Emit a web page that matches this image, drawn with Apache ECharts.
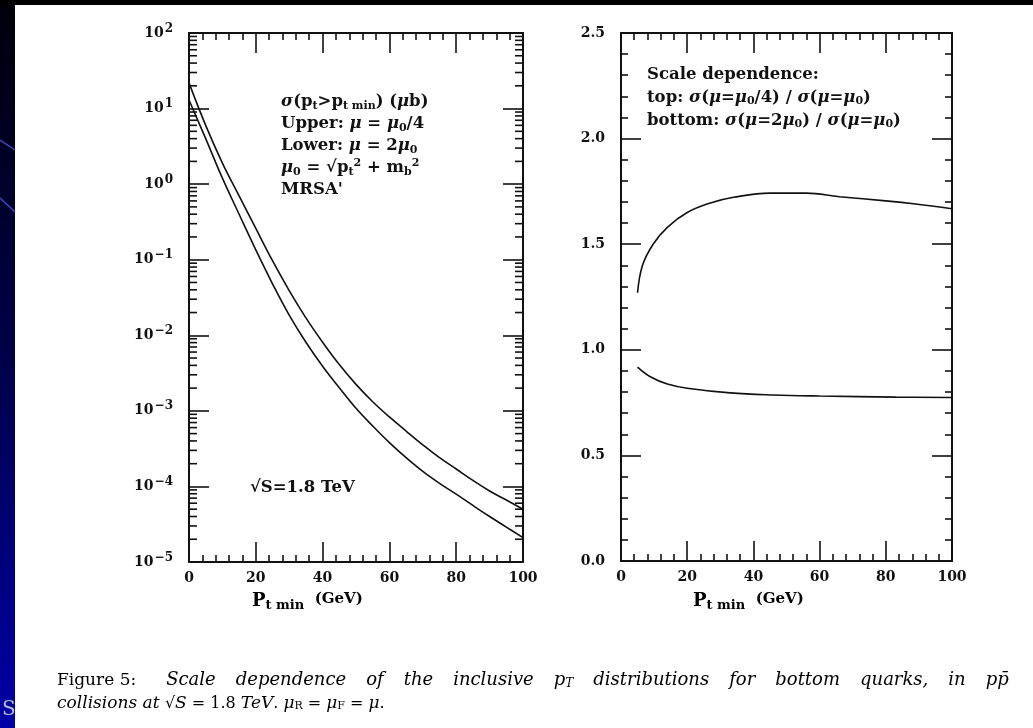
<!DOCTYPE html>
<html><head><meta charset="utf-8">
<script src="https://cdn.jsdelivr.net/npm/echarts@6/dist/echarts.min.js"></script>
<style>html,body{margin:0;padding:0;background:#fff;overflow:hidden}#c{width:1033px;height:728px;}</style>
</head><body><div id="c"></div>
<script>
// ---- data ----
const ptLeft = [0, 5, 10, 15, 20, 25, 30, 35, 40, 45, 50, 55, 60, 65, 70, 75, 80, 85, 90, 95, 100];
// sigma(pt > pt_min) in microbarn, mu = mu0/4 (upper curve)
const sigmaUpper = [21.9, 6.0, 1.9, 0.70, 0.26, 0.097, 0.039, 0.017, 0.0081, 0.0041, 0.00224, 0.00132, 0.00083, 0.00054, 0.000355, 0.00024, 0.00017, 0.00012, 0.000087, 0.000066, 0.00005];
// mu = 2 mu0 (lower curve)
const sigmaLower = [13.0, 4.0, 1.2, 0.40, 0.135, 0.048, 0.0185, 0.0081, 0.0039, 0.00202, 0.00108, 0.00063, 0.00038, 0.00024, 0.000158, 0.00011, 0.000079, 0.000056, 0.00004, 0.000029, 0.000021];

const ptTop = [5, 6.5, 9.7, 14, 20, 27, 34, 45, 56, 66, 80, 89, 100];
const ratioTop = [1.27, 1.40, 1.50, 1.58, 1.65, 1.695, 1.722, 1.742, 1.742, 1.725, 1.705, 1.69, 1.668];
const ptBottom = [5, 9, 14, 20, 33, 46, 60, 83, 100];
const ratioBottom = [0.918, 0.871, 0.838, 0.818, 0.796, 0.786, 0.781, 0.776, 0.774];

const xTicks = [0, 20, 40, 60, 80, 100];
const ratioTicks = ['0.0', '0.5', '1.0', '1.5', '2.0', '2.5'];

// log minor tick positions (2..9 x 10^k)
const logMinor = [];
for (let k = -5; k < 2; k++) for (let m = 2; m <= 9; m++) logMinor.push(m * Math.pow(10, k));

const BOLD = '"DejaVu Serif", "Liberation Serif", serif';
const SERIF = '"DejaVu Serif", "Liberation Serif", serif';
const BLACK = '#111';

function zip(a, b) { return a.map((v, i) => [v, b[i]]); }

const axisLine = { show: true, onZero: false, lineStyle: { color: BLACK, width: 2 } };
function xAx(grid, pos, labels) {
  return {
    type: 'value', gridIndex: grid, position: pos, min: 0, max: 100, interval: 20,
    axisLine: axisLine,
    axisTick: { show: true, inside: true, length: 20, lineStyle: { color: BLACK, width: 1.6 } },
    minorTick: { show: true, splitNumber: 5, length: 7, lineStyle: { color: BLACK, width: 1.6 } },
    splitLine: { show: false }, minorSplitLine: { show: false },
    axisLabel: { show: labels, margin: 9, color: BLACK, fontFamily: BOLD, fontWeight: 'bold', fontSize: 14,
      formatter: function (v) { return String(xTicks[Math.round(v / 20)]); } }
  };
}
function supText(e) { return e < 0 ? '\u2212' + (-e) : String(e); }
function logAx(pos, labels) {
  return {
    type: 'log', logBase: 10, gridIndex: 0, position: pos, min: 1e-5, max: 100, splitNumber: 7,
    axisLine: axisLine,
    axisTick: { show: true, inside: true, length: 20, lineStyle: { color: BLACK, width: 1.6 } },
    splitLine: { show: false },
    axisLabel: {
      show: labels, margin: 16, color: BLACK,
      formatter: function (v) { const e = Math.round(Math.log10(v)); return '{b|10}{s|' + supText(e) + '}'; },
      rich: {
        b: { fontFamily: BOLD, fontWeight: 'bold', fontSize: 14, color: BLACK },
        s: { fontFamily: BOLD, fontWeight: 'bold', fontSize: 12, color: BLACK, padding: [0, 0, 9, 1] }
      }
    }
  };
}
function ratioAx(pos, labels) {
  return {
    type: 'value', gridIndex: 1, position: pos, min: 0, max: 2.5, interval: 0.5,
    axisLine: axisLine,
    axisTick: { show: true, inside: true, length: 20, lineStyle: { color: BLACK, width: 1.6 } },
    minorTick: { show: true, splitNumber: 5, length: 7, lineStyle: { color: BLACK, width: 1.6 } },
    splitLine: { show: false }, minorSplitLine: { show: false },
    axisLabel: { show: labels, margin: 16, color: BLACK, fontFamily: BOLD, fontWeight: 'bold', fontSize: 14,
      formatter: function (v) { return ratioTicks[Math.round(v / 0.5)]; } }
  };
}

const rich = {
  t: { fontFamily: BOLD, fontWeight: 'bold', fontSize: 16.5, color: BLACK },
  g: { fontFamily: BOLD, fontWeight: 'bold', fontStyle: 'italic', fontSize: 16.5, color: BLACK },
  sb: { fontFamily: BOLD, fontWeight: 'bold', fontSize: 11, color: BLACK, padding: [8, 0, 0, 0] },
  sp: { fontFamily: BOLD, fontWeight: 'bold', fontSize: 11, color: BLACK, padding: [0, 0, 9, 0] }
};
function txt(left, top, s, lh) {
  return { type: 'text', left: left, top: top, silent: true,
    style: { text: s, rich: rich, fill: BLACK, font: 'bold 16.5px ' + BOLD, lineHeight: lh || 22 } };
}
const axisNameRich = {
  P: { fontFamily: BOLD, fontWeight: 'bold', fontSize: 18, color: BLACK },
  s: { fontFamily: BOLD, fontWeight: 'bold', fontSize: 13, color: BLACK, padding: [8, 0, 0, 0] },
  g: { fontFamily: BOLD, fontWeight: 'bold', fontSize: 15, color: BLACK, padding: [0, 0, 4, 0] }
};
const capRich = {
  n: { fontFamily: SERIF, fontSize: 17, color: BLACK },
  i: { fontFamily: SERIF, fontStyle: 'italic', fontSize: 18, color: BLACK },
  n2: { fontFamily: SERIF, fontSize: 16, color: BLACK },
  i2: { fontFamily: SERIF, fontStyle: 'italic', fontSize: 17, color: BLACK },
  w: { fontFamily: SERIF, fontSize: 16, width: 20 },
  W: { fontFamily: SERIF, fontSize: 16, width: 30 },
  sb: { fontFamily: SERIF, fontStyle: 'italic', fontSize: 12, color: BLACK, padding: [6, 0, 0, 0] },
  sr: { fontFamily: SERIF, fontSize: 11, color: BLACK, padding: [6, 0, 0, 0] }
};
const capWords = ['Scale', 'dependence', 'of', 'the', 'inclusive'];
const capWords2 = ['distributions', 'for', 'bottom', 'quarks,', 'in'];
const capLine1 = '{n|Figure 5:}{W| }' + capWords.map(w => '{i|' + w + '}').join('{w| }') +
  '{w| }{i|p}{sb|T}{w| }' + capWords2.map(w => '{i|' + w + '}').join('{w| }') + '{w| }{i|pp̄}';
const capLine2 = '{i2|collisions at }{n2|√}{i2|S}{n2| = 1.8 }{i2|TeV}{n2|. }{i2|μ}{sr|R}{n2| = }{i2|μ}{sr|F}{n2| = }{i2|μ}{n2|.}';

const chart = echarts.init(document.getElementById('c'), null, { renderer: 'canvas' });
chart.setOption({
  backgroundColor: '#ffffff',
  animation: false,
  grid: [
    { left: 189, top: 33, width: 334, height: 529 },
    { left: 621, top: 33, width: 331, height: 528 }
  ],
  xAxis: [xAx(0, 'bottom', true), xAx(0, 'top', false), xAx(1, 'bottom', true), xAx(1, 'top', false)],
  yAxis: [logAx('left', true), logAx('right', false), ratioAx('left', true), ratioAx('right', false)],
  series: [
    { type: 'line', xAxisIndex: 0, yAxisIndex: 0, data: zip(ptLeft, sigmaUpper), smooth: 0.4, symbol: 'none', silent: true,
      lineStyle: { color: BLACK, width: 1.6 } },
    { type: 'line', xAxisIndex: 0, yAxisIndex: 0, data: zip(ptLeft, sigmaLower), smooth: 0.4, symbol: 'none', silent: true,
      lineStyle: { color: BLACK, width: 1.6 } },
    { type: 'line', xAxisIndex: 2, yAxisIndex: 2, data: zip(ptTop, ratioTop), smooth: 0.4, symbol: 'none', silent: true,
      lineStyle: { color: BLACK, width: 1.6 } },
    { type: 'line', xAxisIndex: 2, yAxisIndex: 2, data: zip(ptBottom, ratioBottom), smooth: 0.4, symbol: 'none', silent: true,
      lineStyle: { color: BLACK, width: 1.6 } },
    { type: 'custom', xAxisIndex: 0, yAxisIndex: 0, silent: true, clip: false,
      data: logMinor.map(v => [0, v]),
      renderItem: function (params, api) {
        const v = api.value(1);
        const a = api.coord([0, v]), b = api.coord([100, v]);
        const st = { stroke: BLACK, lineWidth: 1.6 };
        return { type: 'group', children: [
          { type: 'line', shape: { x1: a[0], y1: a[1], x2: a[0] + 8, y2: a[1] }, style: st },
          { type: 'line', shape: { x1: b[0], y1: b[1], x2: b[0] - 8, y2: b[1] }, style: st }
        ] };
      } }
  ],
  graphic: [
    // slide background strips
    { type: 'rect', left: 0, top: 0, shape: { width: 15, height: 728 }, silent: true,
      style: { fill: new echarts.graphic.LinearGradient(0, 0, 0, 1, [
        { offset: 0, color: '#00000a' }, { offset: 0.5, color: '#00004a' }, { offset: 1, color: '#0000a8' }]) } },
    { type: 'rect', left: 0, top: 0, shape: { width: 1033, height: 5 }, silent: true, style: { fill: '#000000' } },
    { type: 'polyline', silent: true, shape: { points: [[0, 140], [15, 150]] }, style: { stroke: '#3a4cc0', lineWidth: 1.5 } },
    { type: 'polyline', silent: true, shape: { points: [[0, 198], [15, 212]] }, style: { stroke: '#3a4cc0', lineWidth: 1.5 } },
    { type: 'text', left: 2, top: 700, silent: true, style: { text: 'S', fill: '#b8bcd8', font: '20px ' + SERIF } },
    // left panel annotations
    txt(281, 91, '{g|σ}{t|(p}{sb|t}{t|>p}{sb|t min}{t|) (}{g|μ}{t|b)}\n{t|Upper: }{g|μ}{t| = }{g|μ}{sb|0}{t|/4}\n{t|Lower: }{g|μ}{t| = 2}{g|μ}{sb|0}\n{g|μ}{sb|0}{t| = √p}{sb|t}{sp|2}{t| + m}{sb|b}{sp|2}\n{t|MRSA\'}'),
    txt(250, 477, '{t|√S=1.8 TeV}'),
    // right panel annotations
    txt(647, 63, '{t|Scale dependence:}\n{t|top: }{g|σ}{t|(}{g|μ}{t|=}{g|μ}{sb|0}{t|/4) / }{g|σ}{t|(}{g|μ}{t|=}{g|μ}{sb|0}{t|)}\n{t|bottom: }{g|σ}{t|(}{g|μ}{t|=2}{g|μ}{sb|0}{t|) / }{g|σ}{t|(}{g|μ}{t|=}{g|μ}{sb|0}{t|)}', 23),
    // axis titles
    { type: 'text', left: 252, top: 592, silent: true, style: { text: '{P|P}{s|t min}{g|  (GeV)}', rich: axisNameRich } },
    { type: 'text', left: 693, top: 592, silent: true, style: { text: '{P|P}{s|t min}{g|  (GeV)}', rich: axisNameRich } },
    // caption
    { type: 'text', left: 57, top: 669, silent: true, style: { rich: capRich, text: capLine1 + '\n' + capLine2, lineHeight: 23 } }
  ]
});
</script>
</body></html>
